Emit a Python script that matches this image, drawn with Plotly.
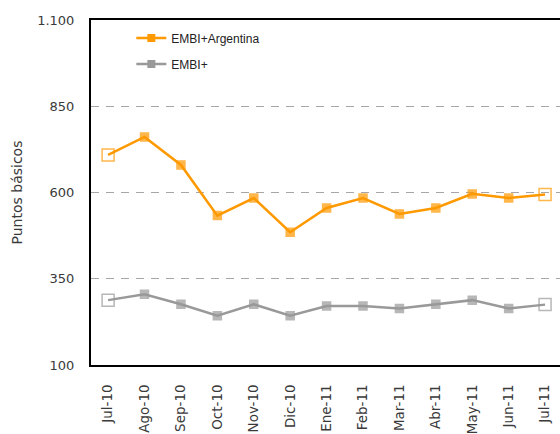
import plotly.graph_objects as go

categories = ["Jul-10", "Ago-10", "Sep-10", "Oct-10", "Nov-10", "Dic-10", "Ene-11",
              "Feb-11", "Mar-11", "Abr-11", "May-11", "Jun-11", "Jul-11"]
embi_arg = [709, 761, 680, 533, 584, 485, 555, 584, 538, 555, 596, 584, 594]
embi = [288, 305, 276, 243, 276, 243, 271, 271, 264, 276, 288, 264, 275]
y_ticks = [100, 350, 600, 850, 1100]
y_ticktext = ["100", "350", "600", "850", "1.100"]

ORANGE = "#FF9900"
GRAY = "#999999"
FONT = "DejaVu Sans"
TXT = "#3a3a3a"

fig = go.Figure()

def add_series(name, vals, color, group):
    n = len(vals)
    sym = ["square-open" if i in (0, n - 1) else "square" for i in range(n)]
    size = [12 if i in (0, n - 1) else 8 for i in range(n)]
    fig.add_trace(go.Scatter(
        x=categories, y=vals, mode="lines+markers", name=name,
        line=dict(color=color, width=2.5),
        marker=dict(symbol=sym, size=size, color=color, line=dict(color=color, width=1.5)),
        showlegend=False, legendgroup=group, hoverinfo="skip"))
    fig.add_trace(go.Scatter(
        x=[None], y=[None], mode="lines+markers", name=name,
        line=dict(color=color, width=2.5),
        marker=dict(symbol="square", size=8, color=color),
        showlegend=True, legendgroup=group))

add_series("EMBI+Argentina", embi_arg, ORANGE, "a")
add_series("EMBI+", embi, GRAY, "b")

fig.update_layout(
    width=560, height=434,
    margin=dict(l=91, r=0, t=20, b=67),
    paper_bgcolor="white", plot_bgcolor="white",
    font=dict(family=FONT, color=TXT, size=12),
    legend=dict(x=0.086, y=0.99, xanchor="left", yanchor="top",
                bgcolor="rgba(0,0,0,0)",
                font=dict(size=12, family="Liberation Sans", color="#222222"),
                tracegroupgap=7, traceorder="grouped", itemwidth=30),
    xaxis=dict(
        type="category", range=[-0.47, 12.41],
        showline=True, linecolor="black", linewidth=2, mirror=True,
        showgrid=False, ticks="", tickangle=-90, ticklabelstandoff=12,
        tickfont=dict(size=13.5, family=FONT, color=TXT),
    ),
    yaxis=dict(
        range=[100, 1100], tickvals=y_ticks, ticktext=y_ticktext,
        showline=True, linecolor="black", linewidth=2,
        showgrid=True, gridcolor="#A6A6A6", gridwidth=1, griddash="8px,7px",
        zeroline=False, ticks="", ticklabelstandoff=12,
        tickfont=dict(size=13, family=FONT, color=TXT),
    ),
    annotations=[dict(
        text="Puntos básicos", textangle=-90, xref="paper", yref="paper",
        x=(16 - 91) / 469, y=0.5, xanchor="center", yanchor="middle",
        showarrow=False, font=dict(size=14, family=FONT, color=TXT))],
)

fig.write_html("out.html", config={"displayModeBar": False},
               post_script="document.body.style.margin='0';document.body.style.overflow='hidden';")
